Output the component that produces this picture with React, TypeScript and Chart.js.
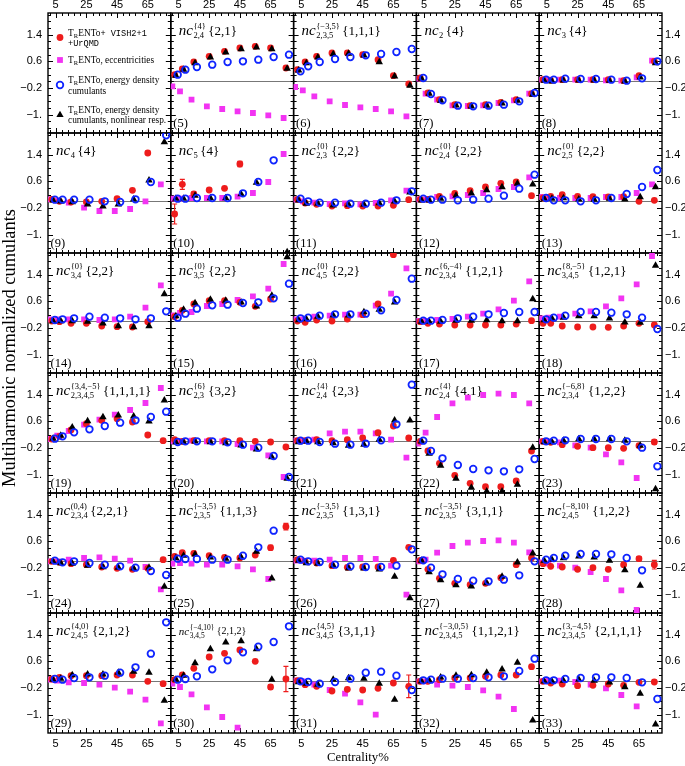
import React, { useEffect, useRef } from 'react';
import { Chart, registerables } from 'chart.js';

Chart.register(...registerables);

const CANVAS_W = 685;
const CANVAS_H = 766;
const NCOL = 5;
const NROW = 6;
const X_MIN = 0;
const X_MAX = 80;
const Y_MIN = -1.55;
const Y_MAX = 2.05;
const X_TICKS = [5, 25, 45, 65];
const Y_TICKS = [1.4, 0.6, -0.2, -1.0];
const CENTRALITY = [2.5, 7.5, 15, 25, 35, 45, 55, 65, 75];
const PANEL_NUMBERS = [5, 6, 7, 8, 9, 10, 11, 12, 13, 14, 15, 16, 17, 18, 19, 20, 21, 22, 23, 24, 25, 26, 27, 28, 29, 30, 31, 32, 33];

// [superscript, subscript, argument]
const TITLES: [string, string, string][] = [
  ['{4}', '2,4', '{2,1}'],
  ['{−3,5}', '2,3,5', '{1,1,1}'],
  ['', '2', '{4}'],
  ['', '3', '{4}'],
  ['', '4', '{4}'],
  ['', '5', '{4}'],
  ['{0}', '2,3', '{2,2}'],
  ['{0}', '2,4', '{2,2}'],
  ['{0}', '2,5', '{2,2}'],
  ['{0}', '3,4', '{2,2}'],
  ['{0}', '3,5', '{2,2}'],
  ['{0}', '4,5', '{2,2}'],
  ['{6,−4}', '2,3,4', '{1,2,1}'],
  ['{8,−5}', '3,4,5', '{1,2,1}'],
  ['{3,4,−5}', '2,3,4,5', '{1,1,1,1}'],
  ['{6}', '2,3', '{3,2}'],
  ['{4}', '2,4', '{2,3}'],
  ['{4}', '2,4', '{4,1}'],
  ['{−6,8}', '2,3,4', '{1,2,2}'],
  ['(0,4)', '2,3,4', '{2,2,1}'],
  ['{−3,5}', '2,3,5', '{1,1,3}'],
  ['{−3,5}', '2,3,5', '{1,3,1}'],
  ['{−3,5}', '2,3,5', '{3,1,1}'],
  ['{−8,10}', '2,4,5', '{1,2,2}'],
  ['{4,0}', '2,4,5', '{2,1,2}'],
  ['{−4,10}', '3,4,5', '{2,1,2}'],
  ['{4,5}', '3,4,5', '{3,1,1}'],
  ['{−3,0,5}', '2,3,4,5', '{1,1,2,1}'],
  ['{3,−4,5}', '2,3,4,5', '{2,1,1,1}'],
];
const SMALL_TITLES = [30];

type V = number | null;

// TRENTo + VISH2+1 + UrQMD (red dots), one row per panel (5)...(33)
const RED: V[][] = [
  [0.20, 0.37, 0.58, 0.75, 0.90, 1.00, 1.05, 1.00, 0.40],
  [0.35, 0.58, 0.75, 0.85, 0.85, 0.80, 0.65, 0.17, -0.08],
  [0.10, -0.35, -0.55, -0.70, -0.73, -0.70, -0.63, -0.55, -0.37],
  [0.05, 0.03, 0.05, 0.05, 0.05, 0.05, 0.02, 0.17, 0.60],
  [0.06, 0.0, -0.02, -0.02, 0.0, 0.08, 0.33, 1.45, null],
  [-0.38, 0.51, 0.22, 0.34, 0.39, 1.12, null, null, null],
  [0.06, -0.05, -0.09, -0.14, -0.13, -0.14, -0.14, -0.12, 0.05],
  [0.06, 0.06, 0.15, 0.24, 0.32, 0.43, 0.54, 0.58, 0.17],
  [0.10, 0.15, 0.20, 0.15, 0.14, 0.13, 0.14, 0.0, 0.03],
  [0.01, -0.01, -0.06, -0.06, -0.14, -0.16, -0.17, -0.01, null],
  [0.14, 0.33, 0.52, 0.62, 0.62, 0.57, 0.45, 0.67, null],
  [0.01, -0.03, 0.04, 0.01, 0.07, 0.20, 0.52, 2.0, null],
  [-0.01, -0.06, -0.08, -0.11, -0.11, -0.11, -0.11, -0.08, 0.02],
  [-0.06, -0.06, -0.14, -0.17, -0.17, -0.18, -0.14, -0.06, -0.11],
  [0.07, 0.15, 0.34, 0.53, 0.63, 0.68, 0.58, 0.19, 0.02],
  [0.05, 0.0, 0.02, 0.02, 0.02, 0.02, 0.0, -0.02, -0.17],
  [0.02, 0.02, 0.05, 0.02, 0.05, 0.10, 0.26, 0.46, 0.10],
  [0.0, -0.29, -0.66, -1.02, -1.26, -1.36, -1.36, -1.19, -0.29],
  [0.0, -0.03, -0.10, -0.15, -0.19, -0.19, -0.21, -0.13, -0.02],
  [0.0, -0.03, -0.07, -0.10, -0.17, -0.21, -0.24, -0.21, 0.05],
  [0.15, 0.26, 0.24, 0.17, 0.12, 0.10, 0.19, 0.41, 1.04],
  [0.05, 0.0, -0.05, -0.13, -0.18, -0.17, -0.17, 0.03, 0.42],
  [0.03, -0.24, -0.51, -0.66, -0.70, -0.66, -0.49, -0.10, 0.10],
  [-0.07, -0.15, -0.17, -0.24, -0.19, -0.24, -0.10, 0.08, -0.10],
  [0.07, 0.12, 0.17, 0.17, 0.17, 0.19, 0.19, 0.0, -0.07],
  [0.05, 0.19, 0.39, 0.73, 0.84, 0.94, 0.60, -0.17, 0.07],
  [0.02, -0.10, -0.15, -0.29, -0.24, -0.26, -0.21, -0.05, -0.15],
  [0.0, 0.0, 0.05, 0.10, 0.10, 0.15, 0.19, 0.19, 0.44],
  [0.0, -0.05, -0.08, -0.13, -0.12, -0.08, -0.12, -0.03, -0.02],
];

// [panel number, centrality index, error]
const RED_ERR: [number, number, number][] = [
  [9, 7, 0.05],
  [10, 0, 0.3], [10, 1, 0.15], [10, 2, 0.05], [10, 5, 0.08],
  [23, 8, 0.07],
  [25, 1, 0.05], [25, 7, 0.07], [25, 8, 0.1],
  [28, 7, 0.06], [28, 8, 0.13],
  [30, 7, 0.07], [30, 8, 0.38],
  [31, 8, 0.34],
  [32, 8, 0.06],
];

// TRENTo, eccentricities (magenta squares)
const MAGENTA: V[][] = [
  [-0.15, -0.30, -0.55, -0.75, -0.83, -0.90, -0.95, -1.02, -1.10],
  [-0.17, -0.27, -0.45, -0.60, -0.71, -0.78, -0.83, -0.90, -1.05],
  [0.08, -0.37, -0.55, -0.72, -0.74, -0.72, -0.65, -0.57, -0.37],
  [0.05, 0.05, 0.05, 0.05, 0.05, 0.03, 0.02, 0.12, 0.62],
  [0.06, 0.03, -0.04, -0.19, -0.29, -0.29, -0.23, 0.0, 0.51],
  [0.08, 0.08, 0.10, 0.10, 0.10, 0.14, 0.25, 0.58, 1.42],
  [0.05, 0.0, -0.04, -0.08, -0.06, -0.09, -0.05, 0.03, 0.32],
  [0.06, 0.06, 0.13, 0.15, 0.19, 0.25, 0.37, 0.43, 0.72],
  [0.13, 0.10, 0.10, 0.10, 0.10, 0.13, 0.13, 0.25, 0.51],
  [0.06, 0.06, 0.06, 0.06, 0.04, 0.06, 0.14, 0.41, 1.08],
  [0.18, 0.25, 0.28, 0.46, 0.52, 0.64, 0.75, 0.98, 1.72],
  [0.06, 0.06, 0.14, 0.17, 0.20, 0.20, 0.47, 0.83, 1.59],
  [0.01, 0.01, 0.04, 0.07, 0.14, 0.23, 0.36, 0.62, 1.20],
  [0.09, 0.11, 0.14, 0.23, 0.30, 0.45, 0.69, 1.11, 1.96],
  [0.07, 0.17, 0.31, 0.50, 0.65, 0.80, 0.94, 1.15, 1.60],
  [0.0, 0.0, 0.02, 0.0, 0.0, -0.08, -0.19, -0.42, -1.07],
  [0.02, 0.02, 0.05, 0.24, 0.29, 0.29, 0.24, 0.05, -0.49],
  [-0.07, 0.26, 0.73, 1.14, 1.31, 1.39, 1.43, 1.39, 1.14],
  [0.0, 0.0, -0.03, -0.12, -0.19, -0.39, -0.63, -1.10, null],
  [0.0, 0.0, 0.05, 0.10, 0.12, 0.08, 0.02, -0.17, -0.84],
  [-0.07, -0.05, -0.07, -0.10, -0.10, -0.15, -0.24, -0.53, null],
  [0.02, 0.02, 0.02, 0.05, 0.10, 0.10, 0.07, -0.13, -1.00],
  [0.0, 0.05, 0.26, 0.46, 0.56, 0.61, 0.63, 0.56, 0.27],
  [-0.03, -0.07, -0.13, -0.19, -0.32, -0.53, -0.87, -1.46, null],
  [0.05, 0.02, -0.03, -0.05, -0.10, -0.19, -0.31, -0.55, -1.26],
  [-0.07, -0.17, -0.39, -0.78, -1.07, -1.39, null, null, null],
  [0.02, 0.0, -0.10, -0.26, -0.37, -0.63, -1.00, null, null],
  [0.0, 0.0, -0.10, -0.13, -0.17, -0.27, -0.46, -0.83, null],
  [0.0, 0.02, 0.02, -0.02, -0.10, -0.21, -0.41, -0.75, null],
];

// TRENTo, energy density cumulants (blue open circles)
const BLUE: V[][] = [
  [0.20, 0.35, 0.43, 0.50, 0.58, 0.60, 0.65, 0.73, 0.80],
  [0.30, 0.45, 0.58, 0.67, 0.73, 0.78, 0.82, 0.88, 0.97],
  [0.10, -0.38, -0.57, -0.73, -0.75, -0.73, -0.70, -0.60, -0.35],
  [0.05, 0.05, 0.08, 0.07, 0.07, 0.05, 0.02, 0.09, 0.60],
  [0.05, 0.05, 0.05, 0.05, 0.0, -0.02, 0.06, 0.58, 1.98],
  [0.08, 0.08, 0.10, 0.10, 0.10, 0.24, 0.58, 1.23, null],
  [0.08, 0.0, -0.04, -0.04, -0.07, -0.07, -0.04, 0.03, 0.30],
  [0.08, 0.05, 0.05, 0.03, 0.05, 0.08, 0.17, 0.38, 0.80],
  [0.10, 0.03, 0.03, 0.0, 0.03, 0.10, 0.22, 0.43, 0.94],
  [0.04, 0.06, 0.09, 0.14, 0.11, 0.09, 0.06, 0.09, 0.30],
  [0.11, 0.23, 0.38, 0.48, 0.50, 0.55, 0.57, 0.69, 1.13],
  [0.09, 0.11, 0.17, 0.21, 0.21, 0.23, 0.33, 0.64, 1.28],
  [0.02, 0.02, 0.04, 0.09, 0.14, 0.21, 0.25, 0.28, 0.28],
  [0.06, 0.11, 0.17, 0.28, 0.28, 0.26, 0.21, 0.11, -0.23],
  [0.08, 0.15, 0.27, 0.36, 0.46, 0.56, 0.63, 0.73, 0.89],
  [-0.02, 0.0, 0.0, 0.0, -0.03, -0.10, -0.19, -0.44, -1.07],
  [0.02, 0.02, -0.02, -0.07, -0.10, -0.07, 0.03, 0.51, 1.70],
  [0.02, -0.29, -0.51, -0.71, -0.83, -0.87, -0.90, -0.84, -0.53],
  [0.0, 0.02, 0.03, 0.07, 0.07, 0.07, 0.0, -0.19, -0.75],
  [0.02, -0.03, 0.0, -0.05, -0.10, -0.15, -0.19, -0.29, -0.41],
  [0.08, 0.07, 0.07, 0.05, 0.05, 0.17, 0.42, 0.92, null],
  [0.05, 0.0, -0.02, -0.10, -0.15, -0.17, -0.17, -0.13, 0.36],
  [0.03, -0.19, -0.39, -0.53, -0.58, -0.60, -0.55, -0.42, 0.0],
  [0.05, 0.10, 0.17, 0.22, 0.22, 0.21, 0.10, -0.27, null],
  [0.07, 0.05, 0.10, 0.12, 0.17, 0.26, 0.42, 0.83, 1.77],
  [0.05, 0.07, 0.15, 0.36, 0.63, 0.87, 1.04, 1.18, 1.65],
  [0.0, -0.02, -0.07, -0.02, 0.08, 0.26, 0.29, 0.17, -0.26],
  [0.03, 0.05, 0.08, 0.08, 0.10, 0.12, 0.15, 0.31, 0.68],
  [0.03, 0.03, 0.07, 0.10, 0.12, 0.12, 0.10, -0.03, -0.53],
];

// TRENTo, energy density cumulants, nonlinear response (black triangles)
const BLACK: V[][] = [
  [0.17, 0.35, 0.55, 0.72, 0.87, 0.97, 1.02, 0.97, 0.38],
  [0.33, 0.55, 0.72, 0.82, 0.83, 0.78, 0.58, 0.15, -0.13],
  [0.08, -0.37, -0.58, -0.72, -0.75, -0.73, -0.66, -0.58, -0.40],
  [0.02, 0.0, 0.03, 0.03, 0.03, 0.02, 0.0, 0.12, 0.55],
  [0.03, 0.0, -0.02, -0.09, -0.15, -0.09, 0.06, 0.63, 1.78],
  [0.08, 0.08, 0.17, 0.10, 0.10, 0.22, 0.56, null, -1.52],
  [0.03, -0.07, -0.07, -0.12, -0.10, -0.10, -0.05, 0.0, 0.27],
  [0.03, 0.03, 0.08, 0.17, 0.24, 0.34, 0.43, 0.53, 0.51],
  [0.08, 0.08, 0.10, 0.06, 0.05, 0.08, 0.06, 0.13, 0.43],
  [0.01, 0.01, 0.01, -0.01, -0.06, -0.14, -0.17, -0.14, 0.82],
  [0.16, 0.35, 0.55, 0.65, 0.62, 0.57, 0.45, 0.77, 1.93],
  [0.04, 0.07, 0.14, 0.18, 0.18, 0.28, 0.35, 0.57, null],
  [-0.01, -0.01, -0.01, 0.02, 0.02, 0.04, 0.01, 0.01, 0.67],
  [0.04, 0.09, 0.11, 0.16, 0.16, 0.09, -0.03, -0.04, 1.67],
  [0.08, 0.17, 0.42, 0.61, 0.73, 0.78, 0.75, 0.60, 1.23],
  [-0.03, -0.02, 0.0, -0.02, -0.05, -0.12, -0.24, -0.47, -1.12],
  [-0.02, 0.0, -0.02, -0.05, -0.13, -0.10, 0.05, 0.63, 0.63],
  [0.0, -0.37, -0.73, -1.12, -1.39, -1.50, -1.50, -1.30, -0.19],
  [-0.02, -0.02, 0.02, 0.07, 0.07, 0.07, 0.02, -0.13, -1.43],
  [0.0, -0.05, -0.07, -0.13, -0.17, -0.19, -0.21, -0.19, -0.76],
  [0.10, 0.17, 0.21, 0.12, 0.08, 0.12, 0.29, -0.51, null],
  [0.02, -0.05, -0.07, -0.13, -0.21, -0.21, -0.24, -0.46, -1.10],
  [0.02, -0.32, -0.56, -0.71, -0.75, -0.65, -0.46, -0.03, 0.24],
  [0.02, 0.05, 0.10, 0.15, 0.12, 0.02, -0.26, -0.73, null],
  [0.05, 0.08, 0.19, 0.21, 0.21, 0.26, 0.29, 0.26, -0.58],
  [0.05, 0.17, 0.55, 0.97, 1.17, 1.21, 0.97, 0.05, null],
  [-0.02, -0.07, -0.10, 0.05, 0.10, 0.08, -0.07, -0.55, null],
  [0.0, 0.03, 0.12, 0.17, 0.19, 0.26, 0.36, 0.56, -1.17],
  [0.0, 0.0, 0.02, 0.05, 0.02, -0.03, -0.17, -0.37, -1.29],
];

// display offsets along the centrality axis for each series
const OFFSET_RED = 0;
const OFFSET_BLACK = 0.8;
const OFFSET_BLUE = 2;
const OFFSET_MAGENTA = -1.5;

const COLOR_RED = '#ee1c1c';
const COLOR_MAGENTA = '#f233f2';
const COLOR_BLUE = '#0f24ff';
const COLOR_BLACK = '#000000';

const LEFT_W = 48;
const RIGHT_W = 23;
const TOP_H = 13;
const BOTTOM_H = 33;

const SERIF = '"Liberation Serif", "Times New Roman", serif';
const SANS = '"Liberation Sans", Arial, sans-serif';
const MONO = '"Liberation Mono", "Courier New", monospace';

function fmtY(v: number): string {
  const a = Math.abs(v);
  const s = Math.abs(a - Math.round(a)) < 1e-9 ? Math.round(a) + '.' : a.toFixed(1);
  return (v < 0 ? '−' : '') + s;
}

function pts(vals: V[], off: number) {
  const out: { x: number; y: number }[] = [];
  CENTRALITY.forEach((c, i) => {
    const v = vals[i];
    if (v !== null && v !== undefined) out.push({ x: c + off, y: v });
  });
  return out;
}

function drawTitle(ctx: CanvasRenderingContext2D, x: number, y: number, t: [string, string, string], small: boolean) {
  const [sup, sub, arg] = t;
  ctx.textAlign = 'left';
  ctx.textBaseline = 'alphabetic';
  ctx.fillStyle = '#000';
  ctx.font = `italic ${small ? 11 : 15}px ${SERIF}`;
  ctx.fillText('nc', x, y);
  x += ctx.measureText('nc').width + 0.5;
  ctx.font = `${small ? 7.5 : 8.5}px ${SERIF}`;
  let w = 0;
  if (sup) {
    ctx.fillText(sup, x, y - (small ? 5 : 6.5));
    w = ctx.measureText(sup).width;
  }
  ctx.fillText(sub, x, y + 3);
  w = Math.max(w, ctx.measureText(sub).width);
  x += w + 2.5;
  ctx.font = `${small ? 10 : 13}px ${SERIF}`;
  ctx.fillText(arg, x, small ? y - 1 : y);
}

function drawTrento(ctx: CanvasRenderingContext2D, x: number, y: number): number {
  ctx.font = `9.3px ${SERIF}`;
  ctx.fillText('T', x, y);
  x += ctx.measureText('T').width;
  ctx.font = `6.5px ${SERIF}`;
  ctx.fillText('R', x, y + 2);
  x += ctx.measureText('R').width + 0.3;
  ctx.font = `9.3px ${SERIF}`;
  ctx.fillText('ENTo', x, y);
  return x + ctx.measureText('ENTo').width;
}

function drawLegend(ctx: CanvasRenderingContext2D, L: number, T: number) {
  const mx = L + 12;
  const tx = L + 20;
  ctx.save();
  // markers
  ctx.fillStyle = COLOR_RED;
  ctx.beginPath();
  ctx.arc(mx, T + 24.5, 3.4, 0, Math.PI * 2);
  ctx.fill();
  ctx.fillStyle = COLOR_MAGENTA;
  ctx.fillRect(mx - 2.9, T + 47 - 2.9, 5.8, 5.8);
  ctx.strokeStyle = COLOR_BLUE;
  ctx.lineWidth = 1.8;
  ctx.beginPath();
  ctx.arc(mx, T + 72, 3.3, 0, Math.PI * 2);
  ctx.stroke();
  ctx.fillStyle = COLOR_BLACK;
  ctx.beginPath();
  const tr = 4.2;
  const ty = T + 102;
  ctx.moveTo(mx, ty - tr);
  ctx.lineTo(mx + tr * 0.866, ty + tr * 0.5);
  ctx.lineTo(mx - tr * 0.866, ty + tr * 0.5);
  ctx.closePath();
  ctx.fill();
  // text
  ctx.fillStyle = '#000';
  ctx.textAlign = 'left';
  ctx.textBaseline = 'alphabetic';
  let x = drawTrento(ctx, tx, T + 22.5);
  ctx.font = `8.6px ${MONO}`;
  ctx.fillText('+ VISH2+1', x, T + 22.5);
  ctx.fillText('+UrQMD', tx, T + 32.5);
  x = drawTrento(ctx, tx, T + 49.5);
  ctx.font = `9.3px ${SERIF}`;
  ctx.fillText(', eccentricities', x, T + 49.5);
  x = drawTrento(ctx, tx, T + 69.5);
  ctx.font = `9.3px ${SERIF}`;
  ctx.fillText(', energy density', x, T + 69.5);
  ctx.fillText('cumulants', tx, T + 80.5);
  x = drawTrento(ctx, tx, T + 100);
  ctx.font = `9.3px ${SERIF}`;
  ctx.fillText(', energy density', x, T + 100);
  ctx.fillText('cumulants, nonlinear resp.', tx, T + 109.5);
  ctx.restore();
}

const decorPlugin = {
  id: 'panelDecor',
  beforeDatasetsDraw(chart: any) {
    const ctx: CanvasRenderingContext2D = chart.ctx;
    ctx.save();
    for (let k = 0; k < NROW * NCOL; k++) {
      const r = Math.floor(k / NCOL);
      const c = k % NCOL;
      const xs = chart.scales['x' + c];
      const ys = chart.scales['y' + r];
      const L = xs.left, R = xs.right, T = ys.top, B = ys.bottom;
      // zero line
      if (k > 0) {
        const y0 = Math.round(ys.getPixelForValue(0)) + 0.5;
        ctx.strokeStyle = '#777';
        ctx.lineWidth = 1;
        ctx.beginPath();
        ctx.moveTo(L, y0);
        ctx.lineTo(R, y0);
        ctx.stroke();
      }
      // ticks
      ctx.strokeStyle = '#000';
      ctx.lineWidth = 1;
      ctx.beginPath();
      for (let v = 1; v < X_MAX; v += 4) {
        const major = X_TICKS.includes(v);
        const len = major ? 5 : 3;
        const px = Math.round(xs.getPixelForValue(v)) + 0.5;
        ctx.moveTo(px, T);
        ctx.lineTo(px, T + len);
        ctx.moveTo(px, B);
        ctx.lineTo(px, B - len);
      }
      for (let i = -7; i <= 10; i++) {
        const v = i * 0.2;
        if (v < Y_MIN || v > Y_MAX) continue;
        const major = Y_TICKS.some((t) => Math.abs(t - v) < 1e-6);
        const len = major ? 5 : 3;
        const py = Math.round(ys.getPixelForValue(v)) + 0.5;
        ctx.moveTo(L, py);
        ctx.lineTo(L + len, py);
        ctx.moveTo(R, py);
        ctx.lineTo(R - len, py);
      }
      ctx.stroke();
      // frame
      ctx.lineWidth = 1.4;
      ctx.strokeRect(L, T, R - L, B - T);
      // labels
      if (k === 0) {
        drawLegend(ctx, L, T);
      } else {
        const p = k - 1;
        const small = SMALL_TITLES.includes(PANEL_NUMBERS[p]);
        drawTitle(ctx, L + 8, T + 22, TITLES[p], small);
        ctx.font = `12.5px ${SERIF}`;
        ctx.fillStyle = '#000';
        ctx.textAlign = 'left';
        ctx.fillText('(' + PANEL_NUMBERS[p] + ')', L + 2.5, B - 6);
      }
    }
    // error bars (red series)
    ctx.strokeStyle = COLOR_RED;
    ctx.lineWidth = 1.2;
    for (const [pn, idx, err] of RED_ERR) {
      const p = PANEL_NUMBERS.indexOf(pn);
      const v = RED[p][idx];
      if (v === null) continue;
      const k = p + 1;
      const xs = chart.scales['x' + (k % NCOL)];
      const ys = chart.scales['y' + Math.floor(k / NCOL)];
      const px = xs.getPixelForValue(CENTRALITY[idx] + OFFSET_RED);
      const y1 = ys.getPixelForValue(v - err);
      const y2 = ys.getPixelForValue(v + err);
      ctx.beginPath();
      ctx.moveTo(px, y1);
      ctx.lineTo(px, y2);
      ctx.moveTo(px - 2.5, y1);
      ctx.lineTo(px + 2.5, y1);
      ctx.moveTo(px - 2.5, y2);
      ctx.lineTo(px + 2.5, y2);
      ctx.stroke();
    }
    // axis titles
    ctx.fillStyle = '#000';
    ctx.textAlign = 'center';
    ctx.textBaseline = 'alphabetic';
    ctx.font = `18.4px ${SERIF}`;
    ctx.save();
    ctx.translate(15, 348);
    ctx.rotate(-Math.PI / 2);
    ctx.fillText('Multiharmonic normalized cumulants', 0, 0);
    ctx.restore();
    ctx.font = `12.8px ${SERIF}`;
    ctx.fillText('Centrality%', 358, 761);
    ctx.restore();
  },
  beforeDatasetDraw(chart: any, args: any) {
    const m = args.meta;
    const ctx: CanvasRenderingContext2D = chart.ctx;
    ctx.save();
    ctx.beginPath();
    ctx.rect(m.xScale.left - 4, m.yScale.top - 4, m.xScale.width + 8, m.yScale.height + 8);
    ctx.clip();
  },
  afterDatasetDraw(chart: any) {
    chart.ctx.restore();
  },
};

function buildConfig(): any {
  const scales: any = {};
  const tickFont = { family: SANS, size: 11 };
  const xTicks = (s: any) => {
    s.ticks = X_TICKS.map((v) => ({ value: v }));
  };
  const yTicks = (s: any) => {
    s.ticks = Y_TICKS.map((v) => ({ value: v }));
  };
  const common = {
    type: 'linear',
    grid: { display: false, drawTicks: false },
    border: { display: false },
  };
  for (let c = 0; c < NCOL; c++) {
    scales['x' + c] = {
      ...common, axis: 'x', position: 'bottom', stack: 'xb', stackWeight: 1, weight: c,
      min: X_MIN, max: X_MAX, afterBuildTicks: xTicks,
      afterFit: (s: any) => { s.height = BOTTOM_H; },
      ticks: { font: tickFont, color: '#000', padding: 4, maxRotation: 0, autoSkip: false, callback: (v: number) => String(v) },
    };
    scales['t' + c] = {
      ...common, axis: 'x', position: 'top', stack: 'xt', stackWeight: 1, weight: NCOL - c,
      min: X_MIN, max: X_MAX, afterBuildTicks: xTicks,
      afterFit: (s: any) => { s.height = TOP_H; },
      ticks: { font: tickFont, color: '#000', padding: 1, maxRotation: 0, autoSkip: false, callback: (v: number) => String(v) },
    };
  }
  for (let r = 0; r < NROW; r++) {
    scales['y' + r] = {
      ...common, axis: 'y', position: 'left', stack: 'yl', stackWeight: 1, weight: NROW - r,
      min: Y_MIN, max: Y_MAX, afterBuildTicks: yTicks,
      afterFit: (s: any) => { s.width = LEFT_W; },
      ticks: { font: tickFont, color: '#000', padding: 6, autoSkip: false, callback: (v: number) => fmtY(v) },
    };
    scales['r' + r] = {
      ...common, axis: 'y', position: 'right', stack: 'yr', stackWeight: 1, weight: r,
      min: Y_MIN, max: Y_MAX, afterBuildTicks: yTicks,
      afterFit: (s: any) => { s.width = RIGHT_W; },
      ticks: { font: tickFont, color: '#000', padding: 3, autoSkip: false, callback: (v: number) => fmtY(v) },
    };
  }

  const datasets: any[] = [];
  for (let p = 0; p < PANEL_NUMBERS.length; p++) {
    const k = p + 1;
    const ax = { xAxisID: 'x' + (k % NCOL), yAxisID: 'y' + Math.floor(k / NCOL), showLine: false };
    datasets.push({
      ...ax, label: 'energy density cumulants', data: pts(BLUE[p], OFFSET_BLUE),
      pointStyle: 'circle', pointRadius: 3.3, pointBackgroundColor: 'rgba(0,0,0,0)',
      pointBorderColor: COLOR_BLUE, pointBorderWidth: 1.8,
    });
    datasets.push({
      ...ax, label: 'nonlinear resp.', data: pts(BLACK[p], OFFSET_BLACK),
      pointStyle: 'triangle', pointRadius: 4.3, pointBackgroundColor: COLOR_BLACK,
      pointBorderColor: COLOR_BLACK, pointBorderWidth: 0,
    });
    datasets.push({
      ...ax, label: 'TRENTo+VISH2+1+UrQMD', data: pts(RED[p], OFFSET_RED),
      pointStyle: 'circle', pointRadius: 3.4, pointBackgroundColor: COLOR_RED,
      pointBorderColor: COLOR_RED, pointBorderWidth: 0,
    });
    datasets.push({
      ...ax, label: 'eccentricities', data: pts(MAGENTA[p], OFFSET_MAGENTA),
      pointStyle: 'rect', pointRadius: 4.1, pointBackgroundColor: COLOR_MAGENTA,
      pointBorderColor: COLOR_MAGENTA, pointBorderWidth: 0,
    });
  }

  return {
    type: 'scatter',
    data: { datasets },
    options: {
      responsive: false,
      maintainAspectRatio: false,
      devicePixelRatio: 1,
      animation: false,
      events: [],
      layout: { padding: 0 },
      plugins: { legend: { display: false }, tooltip: { enabled: false }, title: { display: false } },
      scales,
    },
    plugins: [decorPlugin],
  };
}

export default function App() {
  const ref = useRef<HTMLCanvasElement | null>(null);
  useEffect(() => {
    if (!ref.current) return;
    const chart = new Chart(ref.current, buildConfig());
    return () => chart.destroy();
  }, []);
  return (
    <canvas
      ref={ref}
      width={CANVAS_W}
      height={CANVAS_H}
      style={{ position: 'absolute', left: 0, top: 0, width: CANVAS_W + 'px', height: CANVAS_H + 'px', background: '#fff' }}
    />
  );
}
